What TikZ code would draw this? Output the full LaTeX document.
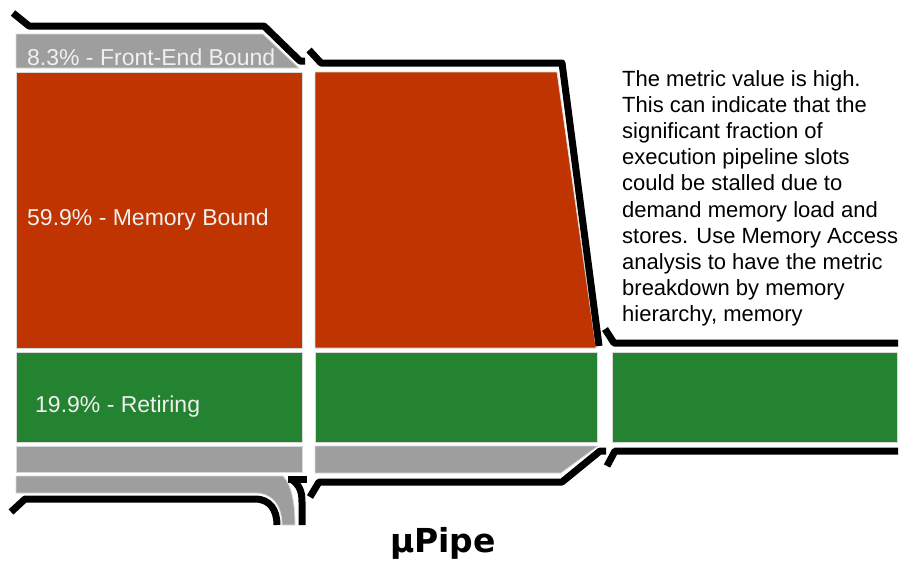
\documentclass[tikz,border=0pt]{standalone}
\usepackage{fontspec}
\setmainfont{Liberation Sans}
\newfontfamily\titlefont{DejaVu Sans}
\definecolor{membound}{RGB}{191,52,0}
\definecolor{retiring}{RGB}{35,131,48}
\definecolor{slotgray}{RGB}{158,158,158}

\begin{document}
\begin{tikzpicture}[x=1pt,y=-1pt,
	bline/.style={line width=7,line join=round},
	band/.style={draw=white!85!black,line width=0.8},
	lbl/.style={anchor=base west,inner sep=0,text=white!94!black,font=\fontsize{23}{27}\selectfont}]
			\useasboundingbox (0,0) rectangle (907,563);
			\filldraw[band,fill=slotgray] (16,34) -- (263,34) -- (299,68) -- (16,68) -- cycle;
			\filldraw[band,fill=membound] (16,72) rectangle (302,348);
			\filldraw[band,fill=retiring] (16,352) rectangle (302,442);
			\filldraw[band,fill=slotgray] (16,446) rectangle (302,472);
			\filldraw[band,fill=slotgray] (16,476) -- (283,476) .. controls (292,485) and (295,505) .. (295,525) -- (282,525) .. controls (282,505) and (272,493) .. (255,493) -- (16,493) -- cycle;
			\filldraw[band,fill=membound] (315,72) -- (557,72) -- (596,348) -- (315,348) -- cycle;
			\filldraw[band,fill=retiring] (315,352) rectangle (597,442);
			\filldraw[band,fill=slotgray] (315,446) -- (598,446) -- (561,473) -- (315,473) -- cycle;
			\filldraw[band,fill=retiring] (612,352) rectangle (897,442);
			\draw[bline] (13,13) -- (29,26) -- (264,26) -- (300,61) -- (305,61);
			\draw[bline] (309,50) -- (321,63) -- (562,63) -- (598,338) -- (599,346);
			\draw[bline] (605,329) -- (614,343) -- (898,343);
			\draw[bline] (11,512) -- (25,499) -- (255,499) .. controls (270,499) and (277,510) .. (277,525);
			\draw[bline] (288,479) -- (307,479);
			\draw[bline] (291,479) .. controls (300,485) and (302,492) .. (302,502) -- (302,525);
			\draw[bline] (310,497) -- (319,482) -- (562,482) -- (600,451) -- (606,451);
			\draw[bline] (607,466) -- (615,451) -- (898,451);
			\node[lbl] (febound) at (27,65) {8.3\% - Front-End Bound};
			\node[lbl] (membnd) at (27,225) {59.9\% - Memory Bound};
			\node[lbl] (retire) at (35,412) {19.9\% - Retiring};
			\node[anchor=north west,inner sep=0,align=left,font=\fontsize{22}{26.2}\selectfont] (hint) at (622,70) {The metric value is high.\\This can indicate that the\\significant fraction of\\execution pipeline slots\\could be stalled due to\\demand memory load and\\stores. Use Memory Access\\analysis to have the metric\\breakdown by memory\\hierarchy, memory};
			\node[font=\titlefont\bfseries\fontsize{33}{36}\selectfont,inner sep=0] (title) at (443,543) {µPipe};
		\end{tikzpicture}
\end{document}
